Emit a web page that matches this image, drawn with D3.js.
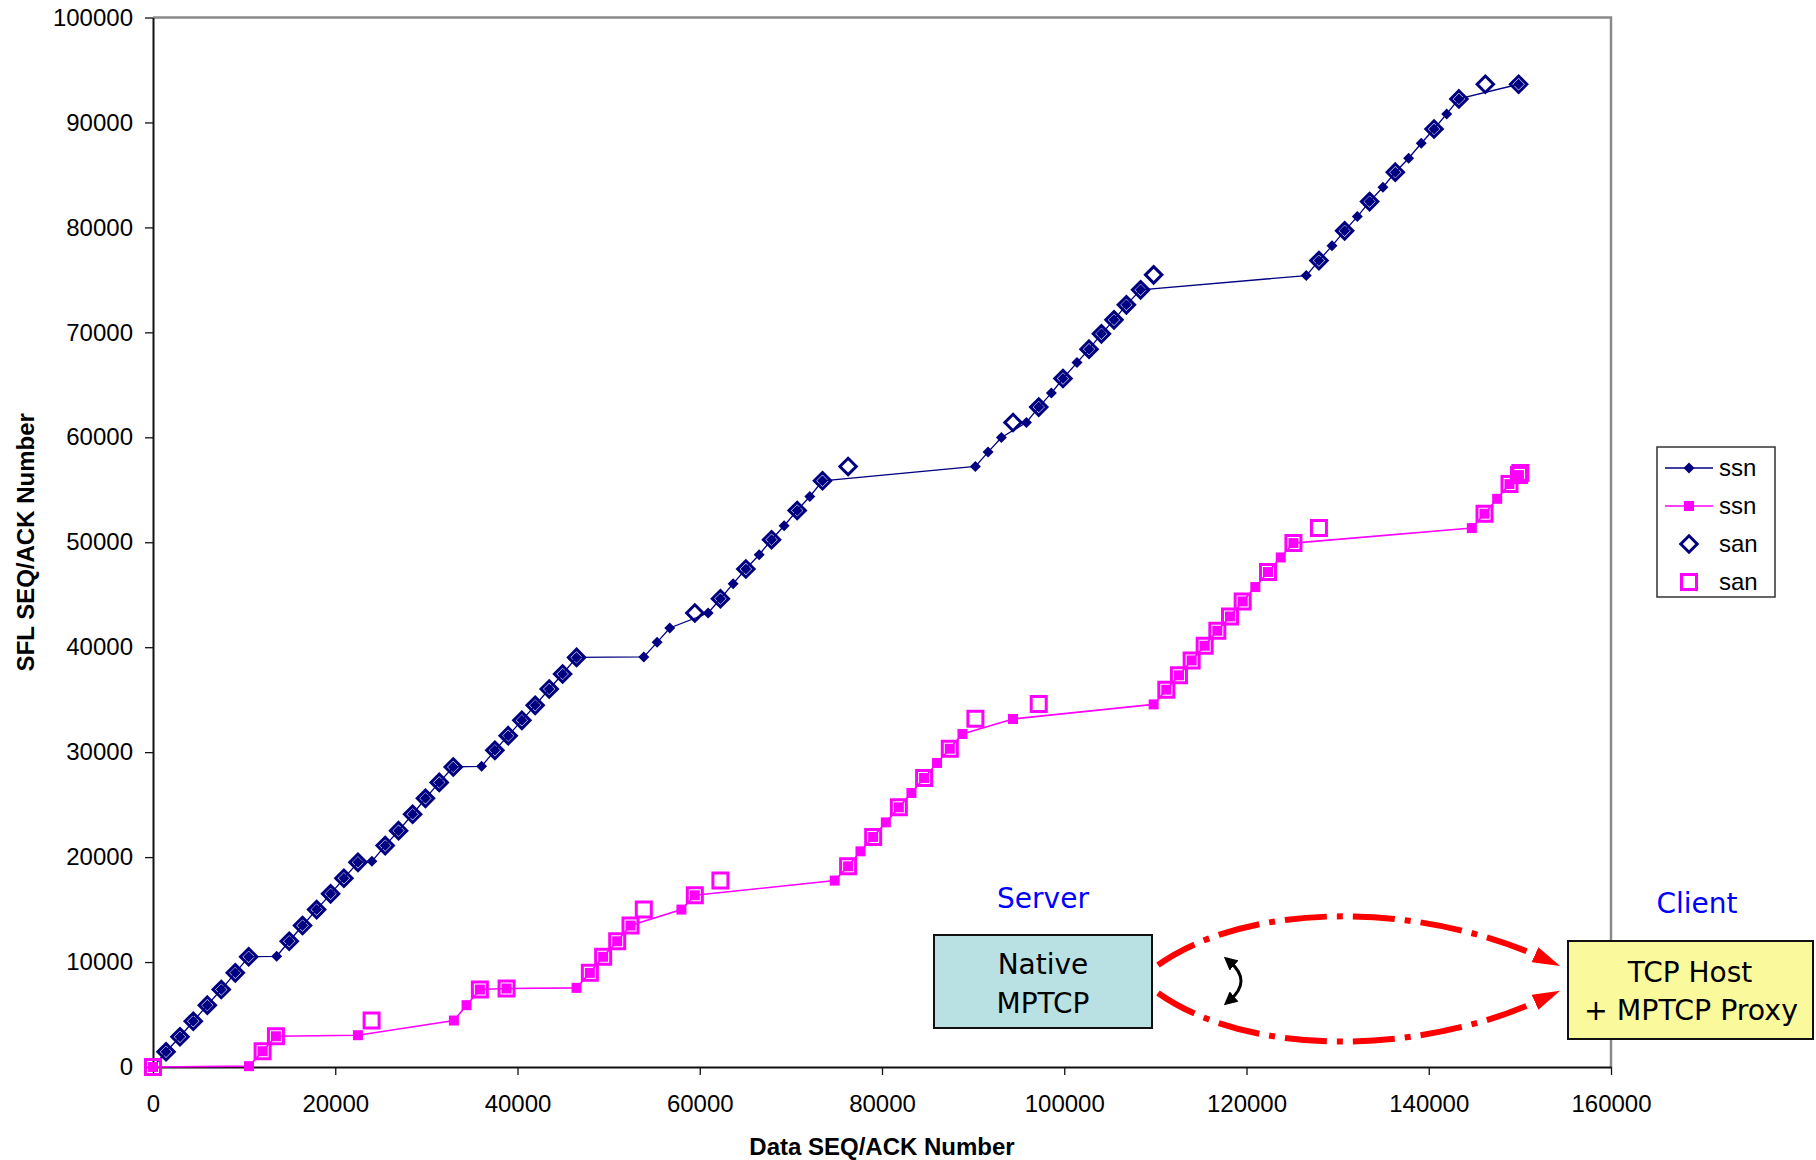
<!DOCTYPE html>
<html>
<head>
<meta charset="utf-8">
<script src="https://cdn.jsdelivr.net/npm/d3@7"></script>
<style>
  body { margin: 0; background: #fff; }
  svg { display: block; }
</style>
</head>
<body>
<svg id="chart" width="1816" height="1160"></svg>
<script>
// subflow 1 (navy) : [data seq, subflow seq]
const ssnNavy = [
  [0,0],[1430,1450],[2960,2880],[4420,4360],[5960,5890],[7490,7380],[9030,8970],[10500,10500],
  [13570,10550],[14950,11980],[16410,13480],[17960,15000],[19490,16500],[20950,17980],[22490,19500],
  [24020,19600],[25480,21100],[26950,22520],[28490,24080],[29900,25600],[31410,27120],[32950,28590],
  [36060,28650],[37520,30170],[38980,31570],[40480,33030],[41940,34460],[43480,36020],[44950,37450],[46480,39030],
  [53860,39070],[55320,40460],[56710,41830],[60920,43260],[62270,44620],[63660,46050],[65060,47450],
  [66520,48810],[67880,50240],[69260,51570],[70690,53030],[72080,54360],[73470,55860],
  [90250,57220],[91640,58590],[93100,59980],[95850,61410],[97200,62880],[98590,64210],[99860,65600],
  [101400,67120],[102720,68400],[104080,69860],[105460,71190],[106820,72620],[108380,74050],
  [126560,75410],[127950,76840],[129380,78240],[130770,79670],[132160,81030],[133510,82460],[134970,83830],
  [136330,85260],[137790,86590],[139180,88020],[140580,89380],[141970,90810],[143310,92240],[149860,93640]
];
const sanNavy = [
  [1430,1450],[2960,2880],[4420,4360],[5960,5890],[7490,7380],[9030,8970],[10500,10500],
  [14950,11980],[16410,13480],[17960,15000],[19490,16500],[20950,17980],[22490,19500],
  [25480,21100],[26950,22520],[28490,24080],[29900,25600],[31410,27120],[32950,28590],
  [37520,30170],[38980,31570],[40480,33030],[41940,34460],[43480,36020],[44950,37450],[46480,39030],
  [59460,43260],[62270,44620],[65060,47450],[67880,50240],[70690,53030],[73470,55860],[76280,57220],
  [94380,61410],[97200,62880],[99860,65600],[102720,68400],[104080,69860],[105460,71190],[106820,72620],
  [108380,74050],[109810,75480],
  [127950,76840],[130770,79670],[133510,82460],[136330,85260],[140580,89380],[143310,92240],
  [146210,93640],[149860,93640]
];
// subflow 2 (magenta)
const ssnPink = [
  [0,0],[10530,80],[12030,1500],[13490,2930],[22490,3030],[33020,4430],[34410,5890],[35870,7380],
  [38800,7480],[46480,7540],[47940,8970],[49400,10500],[50940,11980],[52400,13480],[57990,15000],
  [59460,16360],[74810,17760],[76280,19120],[77640,20550],[79030,21920],[80420,23310],[81850,24740],
  [83230,26110],[84620,27540],[86040,28970],[87440,30330],[88830,31730],[94380,33160],[109810,34550],
  [111200,35950],[112590,37320],[113980,38740],[115410,40140],[116800,41570],[118190,42930],[119580,44360],
  [120970,45730],[122360,47160],[123760,48550],[125150,49920],[144730,51350],[146120,52720],[147510,54140],
  [148860,55540],[149900,56400]
];
const sanPink = [
  [0,0],[12030,1500],[13490,2930],[23990,4430],[35870,7380],[38800,7480],[47940,8970],[49400,10500],
  [50940,11980],[52400,13480],[53860,15000],[59460,16360],[62270,17760],[76280,19120],[79030,21920],
  [81850,24740],[84620,27540],[87440,30330],[90250,33190],[97200,34590],[111200,35950],[112590,37320],
  [113980,38740],[115410,40140],[116800,41570],[118190,42930],[119580,44360],[122360,47160],[125150,49920],
  [127950,51350],[146120,52720],[148860,55540],[149900,56400],[150050,56600]
];
const xTickVals = [0,20000,40000,60000,80000,100000,120000,140000,160000];
const yTickVals = [0,10000,20000,30000,40000,50000,60000,70000,80000,90000,100000];
const legendLabels = ["ssn","ssn","san","san"];

const NAVY = "#000080", PINK = "#ff00ff";
const svg = d3.select("#chart");
const plotL = 153, plotR = 1611, plotT = 17.5, plotB = 1067;

const x = d3.scaleLinear().domain([0,160000]).range([plotL,plotR]);
const y = d3.scaleLinear().domain([0,100000]).range([plotB,plotT]);

// frame (top/right grey)
svg.append("path")
  .attr("d", `M${plotL},${plotT}H${plotR}V${plotB}`)
  .attr("fill","none").attr("stroke","#8a8a8a").attr("stroke-width",2.5);

const fmt = d3.format("d");
const xAxis = svg.append("g").attr("transform",`translate(0,${plotB})`)
  .call(d3.axisBottom(x).tickValues(xTickVals).tickFormat(fmt).tickSize(8).tickPadding(20).tickSizeOuter(0));
const yAxis = svg.append("g").attr("transform",`translate(${plotL},0)`)
  .call(d3.axisLeft(y).tickValues(yTickVals).tickFormat(fmt).tickSize(8).tickPadding(12).tickSizeOuter(0));
[xAxis, yAxis].forEach(g => {
  g.select(".domain").attr("stroke","#111").attr("stroke-width",2);
  g.selectAll(".tick line").attr("stroke","#111").attr("stroke-width",1.3);
  g.selectAll(".tick text").attr("fill","#000")
    .style("font-family","'Liberation Sans', Arial, sans-serif").style("font-size","24px");
});

svg.append("text")
  .attr("x",(plotL+plotR)/2).attr("y",1155).attr("text-anchor","middle")
  .style("font-family","'Liberation Sans', Arial, sans-serif").style("font-size","24px").style("font-weight","bold")
  .text("Data SEQ/ACK Number");
svg.append("text")
  .attr("transform",`translate(34,${(plotT+plotB)/2}) rotate(-90)`).attr("text-anchor","middle")
  .style("font-family","'Liberation Sans', Arial, sans-serif").style("font-size","24px").style("font-weight","bold")
  .text("SFL SEQ/ACK Number");

const diamond = r => `M0,${-r}L${r},0L0,${r}L${-r},0Z`;
const square = s => `M${-s/2},${-s/2}h${s}v${s}h${-s}Z`;
const line = d3.line().x(d => x(d[0])).y(d => y(d[1]));

// series 1: navy ssn
svg.append("path").datum(ssnNavy).attr("d",line)
  .attr("fill","none").attr("stroke",NAVY).attr("stroke-width",1.3);
svg.selectAll(".ssnNavy").data(ssnNavy).enter().append("path")
  .attr("class","ssnNavy")
  .attr("transform", d => `translate(${x(d[0])},${y(d[1])})`)
  .attr("d", diamond(5.5)).attr("fill",NAVY);

// series 2: magenta ssn
svg.append("path").datum(ssnPink).attr("d",line)
  .attr("fill","none").attr("stroke",PINK).attr("stroke-width",1.6);
svg.selectAll(".ssnPink").data(ssnPink).enter().append("path")
  .attr("class","ssnPink")
  .attr("transform", d => `translate(${x(d[0])},${y(d[1])})`)
  .attr("d", square(10)).attr("fill",PINK);

// series 3: navy san
svg.selectAll(".sanNavy").data(sanNavy).enter().append("path")
  .attr("class","sanNavy")
  .attr("transform", d => `translate(${x(d[0])},${y(d[1])})`)
  .attr("d", diamond(8.2)).attr("fill","none").attr("stroke",NAVY).attr("stroke-width",3);

// series 4: magenta san
svg.selectAll(".sanPink").data(sanPink).enter().append("path")
  .attr("class","sanPink")
  .attr("transform", d => `translate(${x(d[0])},${y(d[1])})`)
  .attr("d", square(15)).attr("fill","none").attr("stroke",PINK).attr("stroke-width",3);

// legend
const lg = svg.append("g");
lg.append("rect").attr("x",1657).attr("y",447).attr("width",118).attr("height",150)
  .attr("fill","#fff").attr("stroke","#333").attr("stroke-width",1.5);
const legendY = [468,506,544,582];
lg.append("line").attr("x1",1665).attr("x2",1713).attr("y1",legendY[0]).attr("y2",legendY[0])
  .attr("stroke",NAVY).attr("stroke-width",1.3);
lg.append("path").attr("transform",`translate(1689,${legendY[0]})`).attr("d",diamond(5.5)).attr("fill",NAVY);
lg.append("line").attr("x1",1665).attr("x2",1713).attr("y1",legendY[1]).attr("y2",legendY[1])
  .attr("stroke",PINK).attr("stroke-width",1.6);
lg.append("path").attr("transform",`translate(1689,${legendY[1]})`).attr("d",square(10)).attr("fill",PINK);
lg.append("path").attr("transform",`translate(1689,${legendY[2]})`).attr("d",diamond(8.2))
  .attr("fill","none").attr("stroke",NAVY).attr("stroke-width",3);
lg.append("path").attr("transform",`translate(1689,${legendY[3]})`).attr("d",square(15))
  .attr("fill","none").attr("stroke",PINK).attr("stroke-width",3);
lg.selectAll("text.lab").data(legendLabels).enter().append("text")
  .attr("class","lab").attr("x",1719).attr("y",(d,i) => legendY[i]).attr("dy","0.35em")
  .style("font-family","'Liberation Sans', Arial, sans-serif").style("font-size","24px")
  .text(d => d);

// diagram overlay
const ann = svg.append("g").style("font-family","'DejaVu Sans', Verdana, sans-serif");
const defs = svg.append("defs");
defs.append("marker").attr("id","redHead").attr("viewBox","0 0 10 6").attr("refX",2).attr("refY",3)
  .attr("markerWidth",4.6).attr("markerHeight",2.8).attr("markerUnits","strokeWidth").attr("orient","auto")
  .append("path").attr("d","M0,0L10,3L0,6Z").attr("fill","#ff0000");
defs.append("marker").attr("id","blkHead").attr("viewBox","0 0 10 10").attr("refX",4).attr("refY",5)
  .attr("markerWidth",4.5).attr("markerHeight",4.5).attr("markerUnits","strokeWidth").attr("orient","auto-start-reverse")
  .append("path").attr("d","M0,0L10,5L0,10Z").attr("fill","#000");

ann.append("text").attr("x",1043).attr("y",908).attr("text-anchor","middle")
  .attr("fill","#0000ff").style("font-size","28px").text("Server");
ann.append("text").attr("x",1697).attr("y",913).attr("text-anchor","middle")
  .attr("fill","#0000ff").style("font-size","28px").text("Client");

ann.append("rect").attr("x",934).attr("y",935).attr("width",218).attr("height",93)
  .attr("fill","#b9e0e2").attr("stroke","#111").attr("stroke-width",2);
ann.append("text").attr("x",1043).attr("y",974).attr("text-anchor","middle").style("font-size","28px").text("Native");
ann.append("text").attr("x",1043).attr("y",1013).attr("text-anchor","middle").style("font-size","28px").text("MPTCP");

ann.append("rect").attr("x",1568).attr("y",941).attr("width",245).attr("height",98)
  .attr("fill","#fafa9c").attr("stroke","#111").attr("stroke-width",2);
ann.append("text").attr("x",1690).attr("y",982).attr("text-anchor","middle").style("font-size","28px").text("TCP Host");
ann.append("text").attr("x",1691).attr("y",1020).attr("text-anchor","middle").style("font-size","28px")
  .attr("textLength",214).attr("lengthAdjust","spacingAndGlyphs").text("+ MPTCP Proxy");

ann.append("path").attr("d","M1158,965C1250,900 1420,903 1540,957")
  .attr("fill","none").attr("stroke","#ff0000").attr("stroke-width",6)
  .attr("stroke-dasharray","42 10 6 10").attr("marker-end","url(#redHead)");
ann.append("path").attr("d","M1158,993C1250,1058 1420,1055 1540,1000")
  .attr("fill","none").attr("stroke","#ff0000").attr("stroke-width",6)
  .attr("stroke-dasharray","42 10 6 10").attr("marker-end","url(#redHead)");
ann.append("path").attr("d","M1230,962Q1252,981 1230,1000")
  .attr("fill","none").attr("stroke","#000").attr("stroke-width",3)
  .attr("marker-start","url(#blkHead)").attr("marker-end","url(#blkHead)");
</script>
</body>
</html>
